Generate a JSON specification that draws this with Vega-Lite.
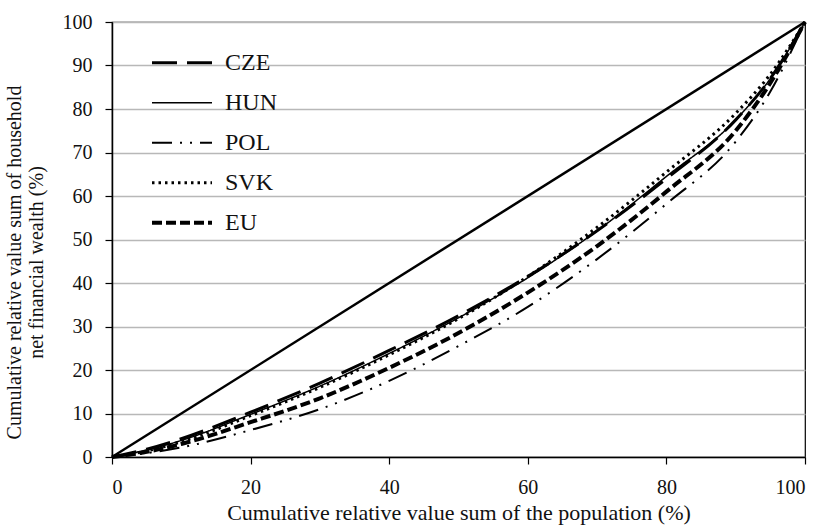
{
  "$schema": "https://vega.github.io/schema/vega-lite/v6.json",
  "width": 693,
  "height": 435,
  "autosize": {"type": "none"},
  "padding": {"left": 112, "top": 22, "right": 17, "bottom": 72},
  "background": "white",
  "config": {
    "font": "Liberation Serif",
    "view": {"stroke": "black", "strokeWidth": 1.2},
    "axis": {
      "labelFont": "Liberation Serif",
      "titleFont": "Liberation Serif",
      "labelFontSize": 20,
      "titleFontSize": 20,
      "titleFontWeight": "normal",
      "labelColor": "#111",
      "titleColor": "#111",
      "domainColor": "black",
      "domainWidth": 1.5,
      "tickColor": "black",
      "tickWidth": 1.2,
      "tickSize": 7
    },
    "legend": {
      "labelFont": "Liberation Serif",
      "labelFontSize": 24,
      "labelColor": "#111"
    }
  },
  "layer": [
    {
      "data": {"values": [{"p": 0, "w": 0}, {"p": 100, "w": 100}]},
      "mark": {"type": "line", "color": "black", "strokeWidth": 2.5},
      "encoding": {
        "x": {"field": "p", "type": "quantitative"},
        "y": {"field": "w", "type": "quantitative"}
      }
    },
    {
      "data": {
        "values": [
          {"country": "CZE", "pop": 0, "wealth": 0},
          {"country": "CZE", "pop": 5, "wealth": 1.8},
          {"country": "CZE", "pop": 10, "wealth": 4.2},
          {"country": "CZE", "pop": 20, "wealth": 10.3},
          {"country": "CZE", "pop": 30, "wealth": 17},
          {"country": "CZE", "pop": 40, "wealth": 24.5},
          {"country": "CZE", "pop": 50, "wealth": 32.5},
          {"country": "CZE", "pop": 60, "wealth": 41.5},
          {"country": "CZE", "pop": 70, "wealth": 52},
          {"country": "CZE", "pop": 80, "wealth": 64},
          {"country": "CZE", "pop": 90, "wealth": 77.5},
          {"country": "CZE", "pop": 95, "wealth": 87},
          {"country": "CZE", "pop": 100, "wealth": 100},
          {"country": "HUN", "pop": 0, "wealth": 0},
          {"country": "HUN", "pop": 5, "wealth": 1.6},
          {"country": "HUN", "pop": 10, "wealth": 3.8},
          {"country": "HUN", "pop": 20, "wealth": 9.8},
          {"country": "HUN", "pop": 30, "wealth": 16.3},
          {"country": "HUN", "pop": 40, "wealth": 23.8},
          {"country": "HUN", "pop": 50, "wealth": 32},
          {"country": "HUN", "pop": 60, "wealth": 41.2},
          {"country": "HUN", "pop": 70, "wealth": 52},
          {"country": "HUN", "pop": 80, "wealth": 64.5},
          {"country": "HUN", "pop": 90, "wealth": 77.5},
          {"country": "HUN", "pop": 95, "wealth": 87},
          {"country": "HUN", "pop": 100, "wealth": 100},
          {"country": "POL", "pop": 0, "wealth": 0},
          {"country": "POL", "pop": 5, "wealth": 0.9},
          {"country": "POL", "pop": 10, "wealth": 2.2},
          {"country": "POL", "pop": 20, "wealth": 6.2},
          {"country": "POL", "pop": 30, "wealth": 11},
          {"country": "POL", "pop": 40, "wealth": 17.5},
          {"country": "POL", "pop": 50, "wealth": 25.5},
          {"country": "POL", "pop": 60, "wealth": 34.5},
          {"country": "POL", "pop": 70, "wealth": 45.5},
          {"country": "POL", "pop": 80, "wealth": 58.2},
          {"country": "POL", "pop": 90, "wealth": 72.5},
          {"country": "POL", "pop": 95, "wealth": 84},
          {"country": "POL", "pop": 100, "wealth": 100},
          {"country": "SVK", "pop": 0, "wealth": 0},
          {"country": "SVK", "pop": 5, "wealth": 1.4},
          {"country": "SVK", "pop": 10, "wealth": 3.5},
          {"country": "SVK", "pop": 20, "wealth": 9.5},
          {"country": "SVK", "pop": 30, "wealth": 16},
          {"country": "SVK", "pop": 40, "wealth": 23.5},
          {"country": "SVK", "pop": 50, "wealth": 31.8},
          {"country": "SVK", "pop": 60, "wealth": 41.5},
          {"country": "SVK", "pop": 70, "wealth": 52.8},
          {"country": "SVK", "pop": 80, "wealth": 65.5},
          {"country": "SVK", "pop": 90, "wealth": 79},
          {"country": "SVK", "pop": 95, "wealth": 88},
          {"country": "SVK", "pop": 100, "wealth": 100},
          {"country": "EU", "pop": 0, "wealth": 0},
          {"country": "EU", "pop": 5, "wealth": 1.2},
          {"country": "EU", "pop": 10, "wealth": 3},
          {"country": "EU", "pop": 20, "wealth": 8},
          {"country": "EU", "pop": 30, "wealth": 13.5},
          {"country": "EU", "pop": 40, "wealth": 20.5},
          {"country": "EU", "pop": 50, "wealth": 28.5},
          {"country": "EU", "pop": 60, "wealth": 37.8},
          {"country": "EU", "pop": 70, "wealth": 48.5},
          {"country": "EU", "pop": 80, "wealth": 61},
          {"country": "EU", "pop": 90, "wealth": 75},
          {"country": "EU", "pop": 95, "wealth": 86},
          {"country": "EU", "pop": 100, "wealth": 100}
        ]
      },
      "mark": {"type": "line", "color": "black", "interpolate": "monotone"},
      "encoding": {
        "x": {
          "field": "pop",
          "type": "quantitative",
          "scale": {"domain": [0, 100], "nice": false},
          "axis": {
            "values": [0, 20, 40, 60, 80, 100],
            "grid": false,
            "labelPadding": 13,
            "title": "Cumulative relative value sum of the population (%)",
            "titleFontSize": 22,
            "titleBaseline": "alphabetic",
            "titleY": 62
          }
        },
        "y": {
          "field": "wealth",
          "type": "quantitative",
          "scale": {"domain": [0, 100], "nice": false},
          "axis": {
            "values": [0, 10, 20, 30, 40, 50, 60, 70, 80, 90, 100],
            "grid": true,
            "gridColor": "#b8b8b8",
            "gridWidth": 1.5,
            "labelPadding": 13,
            "title": ["Cumulative relative value sum of household", "net financial wealth (%)"],
            "titleAngle": -90,
            "titleBaseline": "top",
            "titleX": -108,
            "titleY": 240,
            "titleLineHeight": 22
          }
        },
        "strokeDash": {
          "field": "country",
          "type": "nominal",
          "scale": {
            "domain": ["CZE", "HUN", "POL", "SVK", "EU"],
            "range": [[25, 10], [1, 0], [20, 8, 2, 8, 2, 8], [2.5, 4], [10, 4]]
          },
          "legend": {
            "title": null,
            "orient": "none",
            "legendX": 38,
            "legendY": 21,
            "symbolType": "stroke",
            "symbolSize": 3600,
            "symbolStrokeColor": "black",
            "clipHeight": 39.5,
            "rowPadding": 0,
            "labelOffset": 11,
            "padding": 0,
            "encode": {
              "symbols": {
                "update": {
                  "strokeWidth": {"scale": "strokeWidth", "field": "value"}
                }
              }
            }
          }
        },
        "strokeWidth": {
          "field": "country",
          "type": "nominal",
          "scale": {
            "type": "ordinal",
            "domain": ["CZE", "HUN", "POL", "SVK", "EU"],
            "range": [3, 1.5, 2, 3, 4]
          },
          "legend": null
        }
      }
    }
  ]
}
